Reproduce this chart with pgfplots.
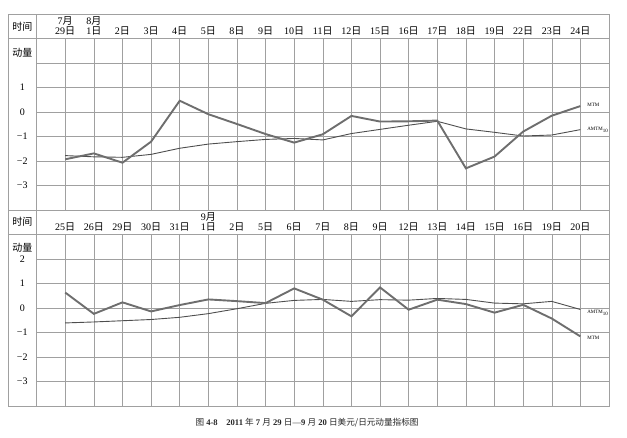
\documentclass[border=0pt]{standalone}
\usepackage{fontspec}
\setmainfont{Liberation Serif}
\newfontfamily\cjk{Noto Sans CJK SC}
\usepackage{pgfplots}
\usepackage{pgfplotstable}
\pgfplotsset{compat=1.18}
\definecolor{mtmc}{HTML}{6E6E6E}
\definecolor{amtmc}{HTML}{4E4E4E}
\definecolor{gridc}{HTML}{A0A0A0}

\pgfplotstableread{
x mtm amtm
0 -1.93 -1.78
1 -1.69 -1.83
2 -2.07 -1.85
3 -1.21 -1.73
4 0.46 -1.48
5 -0.09 -1.31
6 -0.49 -1.21
7 -0.90 -1.12
8 -1.25 -1.08
9 -0.91 -1.14
10 -0.16 -0.88
11 -0.39 -0.71
12 -0.38 -0.54
13 -0.35 -0.38
14 -2.30 -0.69
15 -1.82 -0.83
16 -0.80 -0.98
17 -0.15 -0.94
18 0.24 -0.72
}\topdata

\pgfplotstableread{
x mtm amtm
0 0.63 -0.61
1 -0.24 -0.57
2 0.23 -0.52
3 -0.14 -0.47
4 0.12 -0.38
5 0.35 -0.23
6 0.28 -0.03
7 0.20 0.19
8 0.80 0.31
9 0.34 0.35
10 -0.34 0.27
11 0.84 0.34
12 -0.07 0.32
13 0.34 0.39
14 0.16 0.35
15 -0.19 0.20
16 0.13 0.17
17 -0.43 0.27
18 -1.16 -0.06
}\botdata

\pgfplotsset{panel/.style={
  scale only axis, width=601pt, height=196pt,
  xmin=-2, xmax=19, ymin=-4, ymax=4,
  xtick=\empty, ytick=\empty, clip=false,
  axis line style={draw=gridc, line width=0.6pt},
  anchor=south west,
  every node/.style={font=\fontsize{6.2}{7}\selectfont, text=black!72, inner sep=0pt},
}}
\newcommand{\gridlines}{%
  \pgfplotsinvokeforeach{0,...,18}{\draw[gridc, line width=0.5pt] (axis cs:##1,-4) -- (axis cs:##1,3);}
  \pgfplotsinvokeforeach{-3,...,2}{\draw[gridc, line width=0.5pt] (axis cs:-1,##1) -- (axis cs:19,##1);}
  \draw[gridc, line width=0.6pt] (axis cs:-2,3) -- (axis cs:19,3);
  \draw[gridc, line width=0.6pt] (axis cs:-1,-4) -- (axis cs:-1,4);
}
\newcommand{\hd}[2]{\node at (axis cs:#1,3.32) {#2{\cjk 日}};}

\begin{document}
\begin{tikzpicture}
\useasboundingbox (0,0) rectangle (627pt,438pt);

% ---------- top panel ----------
\begin{axis}[panel, at={(8pt,228pt)}]
\gridlines
\node at (axis cs:-1.5,3.47) {\cjk 时间};
\node at (axis cs:-1.5,2.4) {\cjk 动量};
\node at (axis cs:-1.5,1) {1};
\node at (axis cs:-1.5,0) {0};
\node at (axis cs:-1.5,-1) {−1};
\node at (axis cs:-1.5,-2) {−2};
\node at (axis cs:-1.5,-3) {−3};
\node at (axis cs:0,3.72) {7{\cjk 月}};
\node at (axis cs:1,3.72) {8{\cjk 月}};
\hd{0}{29}\hd{1}{1}\hd{2}{2}\hd{3}{3}\hd{4}{4}\hd{5}{5}\hd{6}{8}\hd{7}{9}
\hd{8}{10}\hd{9}{11}\hd{10}{12}\hd{11}{15}\hd{12}{16}\hd{13}{17}\hd{14}{18}
\hd{15}{19}\hd{16}{22}\hd{17}{23}\hd{18}{24}
\addplot[amtmc, line width=0.9pt, no markers] table[x=x, y=amtm] {\topdata};
\addplot[mtmc, line width=1.9pt, no markers] table[x=x, y=mtm] {\topdata};
\node[anchor=west, font=\fontsize{5}{6}\selectfont] at (axis cs:18.12,0.31) {MTM};
\node[anchor=west, font=\fontsize{5}{6}\selectfont] at (axis cs:18.12,-0.73) {AMTM\textsubscript{10}};
\end{axis}

% ---------- bottom panel ----------
\begin{axis}[panel, at={(8pt,32pt)}]
\gridlines
\node at (axis cs:-1.5,3.51) {\cjk 时间};
\node at (axis cs:-1.5,2.47) {\cjk 动量};
\node at (axis cs:-1.5,2) {2};
\node at (axis cs:-1.5,1) {1};
\node at (axis cs:-1.5,0) {0};
\node at (axis cs:-1.5,-1) {−1};
\node at (axis cs:-1.5,-2) {−2};
\node at (axis cs:-1.5,-3) {−3};
\node at (axis cs:5,3.72) {9{\cjk 月}};
\hd{0}{25}\hd{1}{26}\hd{2}{29}\hd{3}{30}\hd{4}{31}\hd{5}{1}\hd{6}{2}\hd{7}{5}
\hd{8}{6}\hd{9}{7}\hd{10}{8}\hd{11}{9}\hd{12}{12}\hd{13}{13}\hd{14}{14}
\hd{15}{15}\hd{16}{16}\hd{17}{19}\hd{18}{20}
\addplot[amtmc, line width=0.9pt, no markers] table[x=x, y=amtm] {\botdata};
\addplot[mtmc, line width=1.9pt, no markers] table[x=x, y=mtm] {\botdata};
\node[anchor=west, font=\fontsize{5}{6}\selectfont] at (axis cs:18.12,-0.2) {AMTM\textsubscript{10}};
\node[anchor=west, font=\fontsize{5}{6}\selectfont] at (axis cs:18.12,-1.22) {MTM};
\end{axis}

\node[font=\fontsize{8.6}{10}\selectfont, text=black!85] at (307pt,15pt)
  {{\cjk 图} \textbf{4-8}\quad \textbf{2011} {\cjk 年} \textbf{7} {\cjk 月} \textbf{29} {\cjk 日}—\textbf{9} {\cjk 月} \textbf{20} {\cjk 日美元/日元动量指标图}};
\end{tikzpicture}
\end{document}
